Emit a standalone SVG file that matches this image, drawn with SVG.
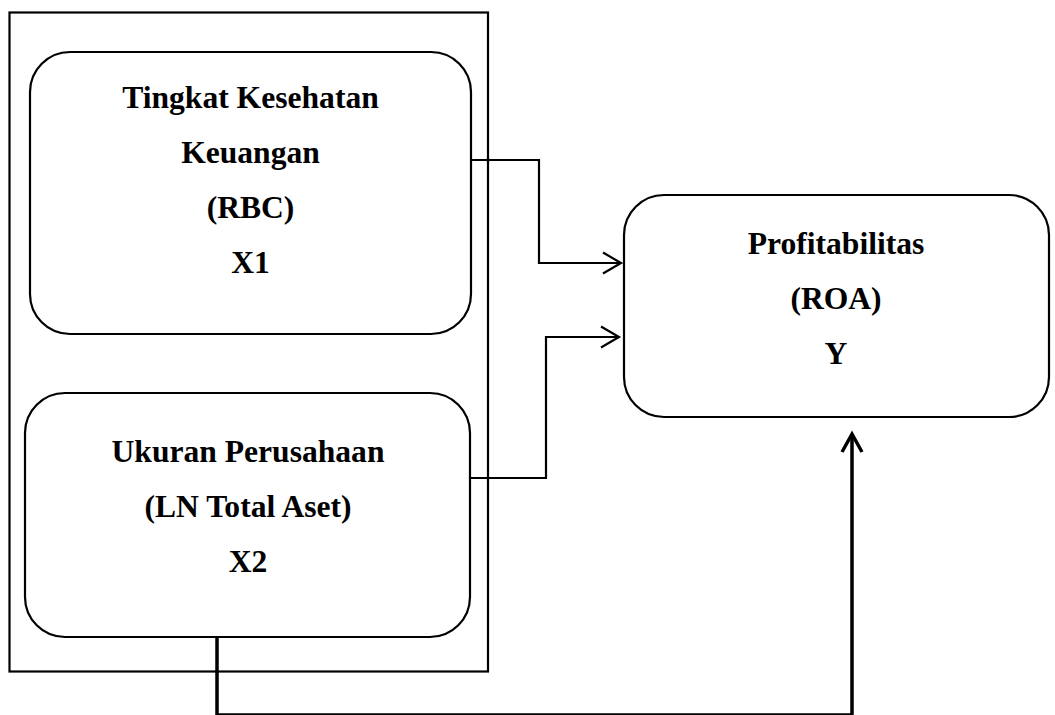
<svg xmlns="http://www.w3.org/2000/svg" width="1055" height="715" viewBox="0 0 1055 715">
<defs>
<style>
.box{fill:#fff;stroke:#000;stroke-width:2.2}
.frame{fill:none;stroke:#000;stroke-width:2.2}
.t{font-family:'Liberation Serif','Times New Roman','DejaVu Serif',serif;font-weight:700;font-size:31.6px;text-anchor:middle;fill:#000}
.c{fill:none;stroke:#000;stroke-width:2.2}
.ct{fill:none;stroke:#000;stroke-width:3.5}
</style>
</defs>
<rect width="1055" height="715" fill="#fff"/>
<rect id="frame" class="frame" x="9.5" y="12.5" width="478.5" height="659"/>
<g id="x1" font-family="Liberation Serif, serif">
<rect class="box" x="30" y="52" width="441" height="282" rx="40" ry="40"/>
<text class="t" x="250.5" y="108">Tingkat Kesehatan</text>
<text class="t" x="250.5" y="163">Keuangan</text>
<text class="t" x="250.5" y="218">(RBC)</text>
<text class="t" x="250.5" y="273">X1</text>
</g>
<g id="x2" font-family="Liberation Serif, serif">
<rect class="box" x="25" y="393" width="445" height="244" rx="40" ry="40"/>
<text class="t" x="248" y="462">Ukuran Perusahaan</text>
<text class="t" x="248" y="517">(LN Total Aset)</text>
<text class="t" x="248" y="572">X2</text>
</g>
<g id="y" font-family="Liberation Serif, serif">
<rect class="box" x="624" y="195" width="425" height="222" rx="40" ry="40"/>
<text class="t" x="836" y="254">Profitabilitas</text>
<text class="t" x="836" y="309">(ROA)</text>
<text class="t" x="836" y="364">Y</text>
</g>
<g id="connectors">
<polyline class="c" points="471,160 539,160 539,263 621,263"/>
<polyline class="c" points="603,252.5 621,263 603,273.5"/>
<polyline class="c" points="471,478 546,478 546,337 619,337"/>
<polyline class="c" points="601,326.5 619,337 601,347.5"/>
<polyline class="ct" points="217,637 217,715 852,715 852,434"/>
<polyline class="ct" points="842,452 852,434 862,452"/>
</g>
</svg>
